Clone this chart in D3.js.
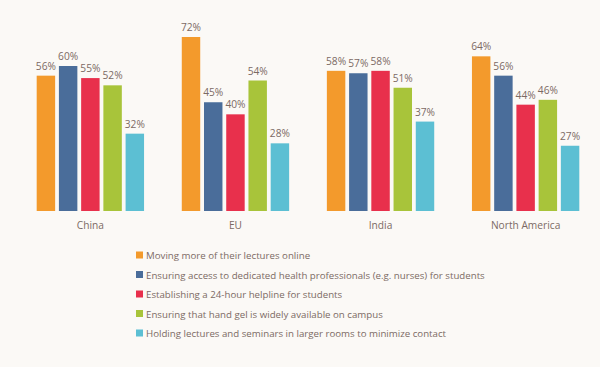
<!DOCTYPE html>
<html>
<head>
<meta charset="utf-8">
<script src="https://cdn.jsdelivr.net/npm/d3@7"></script>
<style>
    body { margin: 0; background: #fbf9f6; }
    svg { display: block; font-family: "Open Sans", sans-serif; }
    .label { fill: #7b6a64; font-size: 10.2px; }
</style>
</head>
<body>
<div id="chart"></div>
<script>
const regions = ["China", "EU", "India", "North America"];
const measures = [
    "Moving more of their lectures online",
    "Ensuring access to dedicated health professionals (e.g. nurses) for students",
    "Establishing a 24-hour helpline for students",
    "Ensuring that hand gel is widely available on campus",
    "Holding lectures and seminars in larger rooms to minimize contact"
];
const colors = ["#f39a2c", "#4a6d9a", "#e8304c", "#a8c43a", "#5cbfd3"];
// values[measure][region]
const onlineLectures = [56, 72, 58, 64];
const healthStaff = [60, 45, 57, 56];
const helpline = [55, 40, 58, 44];
const handGel = [52, 54, 51, 46];
const largerRooms = [32, 28, 37, 27];
const values = [onlineLectures, healthStaff, helpline, handGel, largerRooms];

const width = 600, height = 367;
const svg = d3.select("#chart").append("svg")
    .attr("width", width)
    .attr("height", height);

const x0 = d3.scaleBand()
    .domain(regions)
    .range([20, 596])
    .paddingInner(0.26)
    .paddingOuter(0.115);

const x1 = d3.scaleBand()
    .domain(d3.range(measures.length))
    .range([0, x0.bandwidth()])
    .paddingInner(0.17);

const y = d3.scaleLinear()
    .domain([0, 72])
    .range([211, 37]);

const rows = [];
regions.forEach((r, ri) => {
    measures.forEach((m, mi) => {
        rows.push({ region: r, mi: mi, value: values[mi][ri] });
    });
});

const groups = svg.append("g");

groups.selectAll("rect")
    .data(rows)
    .enter()
    .append("rect")
    .attr("x", d => x0(d.region) + x1(d.mi))
    .attr("y", d => y(d.value))
    .attr("width", x1.bandwidth())
    .attr("height", d => y(0) - y(d.value))
    .attr("fill", d => colors[d.mi]);

groups.selectAll("text.value")
    .data(rows)
    .enter()
    .append("text")
    .classed("label", true)
    .attr("x", d => x0(d.region) + x1(d.mi) + x1.bandwidth() / 2)
    .attr("y", d => y(d.value) - 6)
    .attr("text-anchor", "middle")
    .text(d => d.value + "%");

svg.append("g")
    .selectAll("text")
    .data(regions)
    .enter()
    .append("text")
    .classed("label", true)
    .attr("x", d => x0(d) + x0.bandwidth() / 2)
    .attr("y", 229)
    .attr("text-anchor", "middle")
    .text(d => d);

const legend = svg.append("g")
    .selectAll("g")
    .data(measures)
    .enter()
    .append("g")
    .attr("transform", (d, i) => "translate(136," + (255 + i * 19.5) + ")");

legend.append("rect")
    .attr("x", 0)
    .attr("y", -3.5)
    .attr("width", 7)
    .attr("height", 7)
    .attr("fill", (d, i) => colors[i]);

legend.append("text")
    .classed("label", true)
    .attr("x", 10)
    .attr("y", 4)
    .style("font-size", "9.7px")
    .text(d => d);
</script>
</body>
</html>
